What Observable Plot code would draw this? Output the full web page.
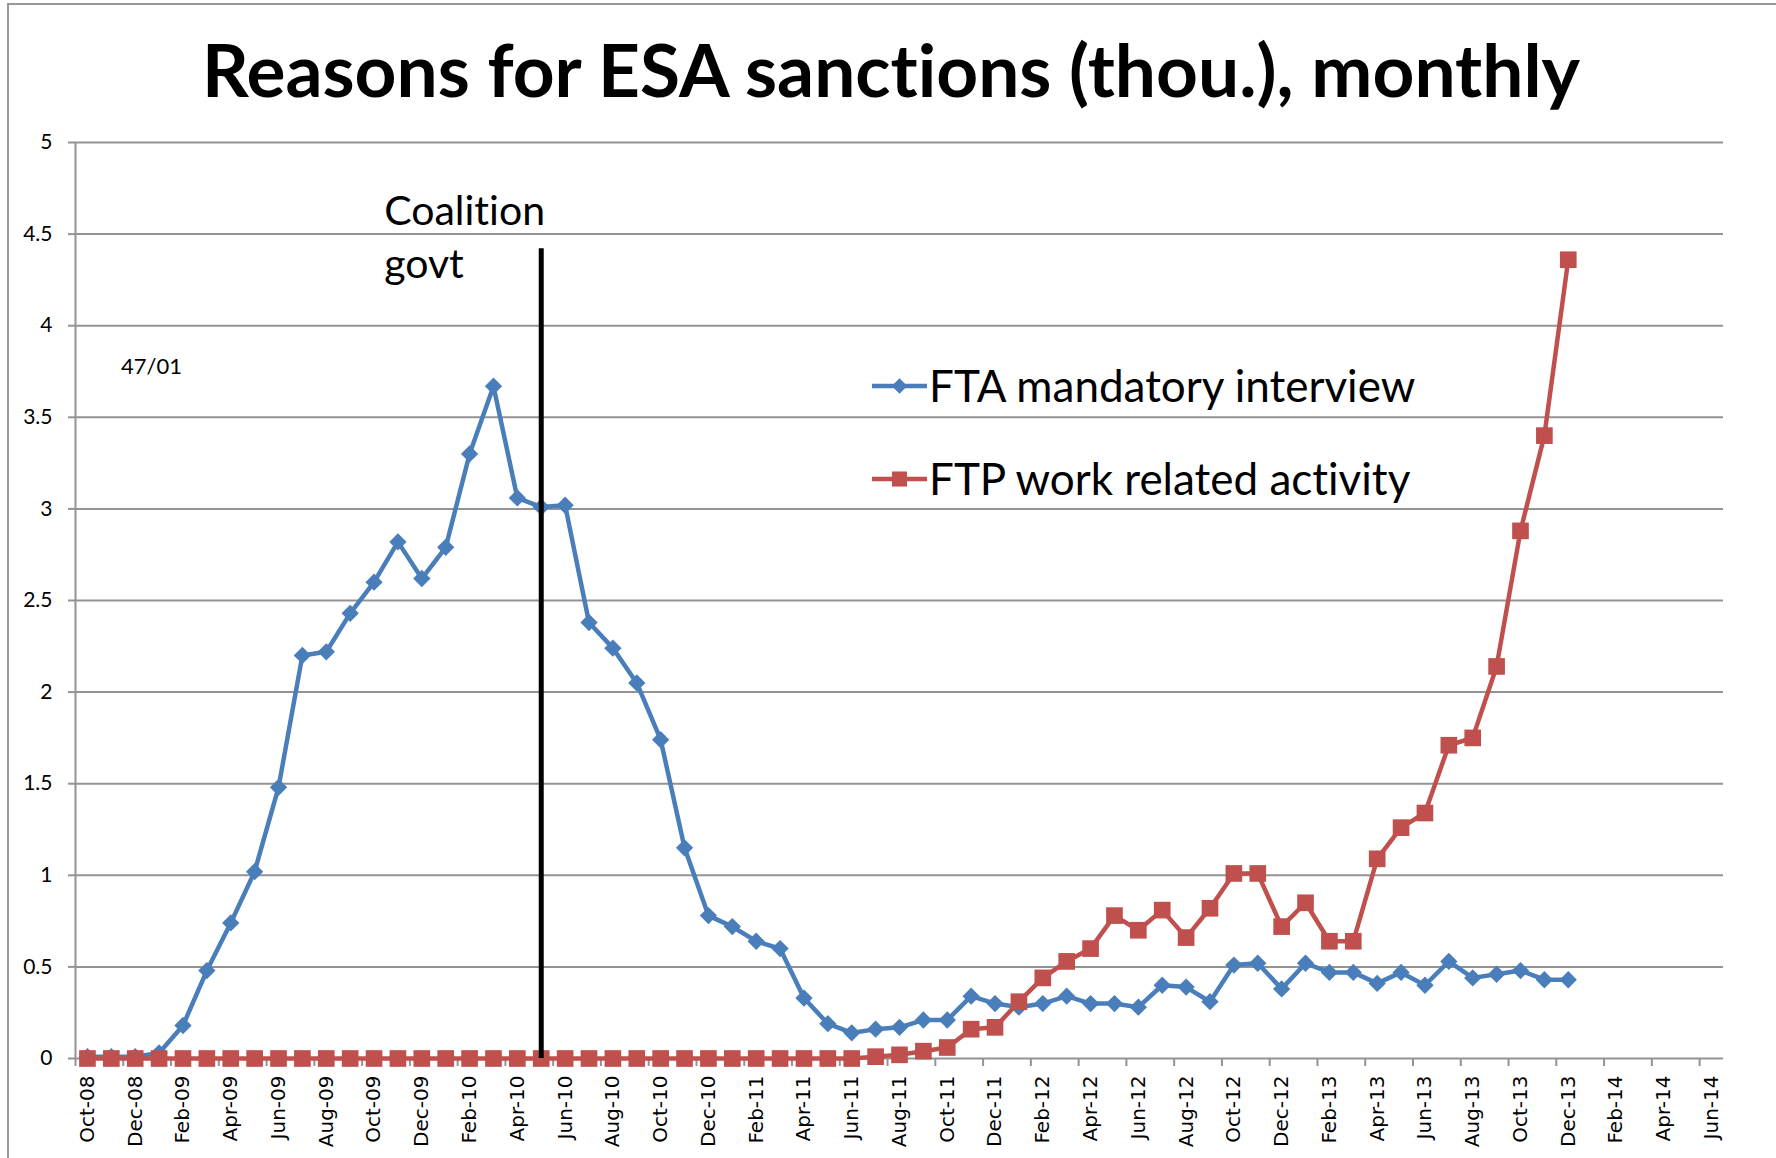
<!DOCTYPE html>
<html><head><meta charset="utf-8">
<script src="https://cdn.jsdelivr.net/npm/d3@7"></script>
<script src="https://cdn.jsdelivr.net/npm/@observablehq/plot@0.6"></script>
<style>
html,body{margin:0;padding:0;background:#fff}
body{width:1776px;height:1158px;overflow:hidden;position:relative}
#chart{position:absolute;left:0;top:110px}
#overlay{position:absolute;left:0;top:0;pointer-events:none}
svg text{font-variant-ligatures:none;font-feature-settings:"liga" 0}
</style>
</head><body>
<div id="chart"></div>
<svg id="overlay" width="1776" height="1158"></svg>
<script>
// ---- data ----
const months = ["Oct-08","Nov-08","Dec-08","Jan-09","Feb-09","Mar-09","Apr-09","May-09","Jun-09","Jul-09","Aug-09","Sep-09",
"Oct-09","Nov-09","Dec-09","Jan-10","Feb-10","Mar-10","Apr-10","May-10","Jun-10","Jul-10","Aug-10","Sep-10",
"Oct-10","Nov-10","Dec-10","Jan-11","Feb-11","Mar-11","Apr-11","May-11","Jun-11","Jul-11","Aug-11","Sep-11",
"Oct-11","Nov-11","Dec-11","Jan-12","Feb-12","Mar-12","Apr-12","May-12","Jun-12","Jul-12","Aug-12","Sep-12",
"Oct-12","Nov-12","Dec-12","Jan-13","Feb-13","Mar-13","Apr-13","May-13","Jun-13","Jul-13","Aug-13","Sep-13",
"Oct-13","Nov-13","Dec-13","Jan-14","Feb-14","Mar-14","Apr-14","May-14","Jun-14"];
const tickMonths = ["Oct-08","Dec-08","Feb-09","Apr-09","Jun-09","Aug-09","Oct-09","Dec-09","Feb-10","Apr-10","Jun-10","Aug-10",
"Oct-10","Dec-10","Feb-11","Apr-11","Jun-11","Aug-11","Oct-11","Dec-11","Feb-12","Apr-12","Jun-12","Aug-12",
"Oct-12","Dec-12","Feb-13","Apr-13","Jun-13","Aug-13","Oct-13","Dec-13","Feb-14","Apr-14","Jun-14"];
const yTicks = [0,0.5,1,1.5,2,2.5,3,3.5,4,4.5,5];
const seriesNames = ["FTA mandatory interview","FTP work related activity"];
const ftaInterview = [0.01,0.01,0.01,0.03,0.18,0.48,0.74,1.02,1.48,2.20,2.22,2.43,
2.60,2.82,2.62,2.79,3.30,3.67,3.06,3.01,3.02,2.38,2.24,2.05,
1.74,1.15,0.78,0.72,0.64,0.60,0.33,0.19,0.14,0.16,0.17,0.21,
0.21,0.34,0.30,0.28,0.30,0.34,0.30,0.30,0.28,0.40,0.39,0.31,
0.51,0.52,0.38,0.52,0.47,0.47,0.41,0.47,0.40,0.53,0.44,0.46,
0.48,0.43,0.43];
const ftpActivity = [0,0,0,0,0,0,0,0,0,0,0,0,
0,0,0,0,0,0,0,0,0,0,0,0,
0,0,0,0,0,0,0,0,0,0.01,0.02,0.04,
0.06,0.16,0.17,0.31,0.44,0.53,0.60,0.78,0.70,0.81,0.66,0.82,
1.01,1.01,0.72,0.85,0.64,0.64,1.09,1.26,1.34,1.71,1.75,2.14,
2.88,3.40,4.36];
const coalitionMonth = "May-10";
const coalitionTop = 4.42;
const coalitionLabel = "Coalition\ngovt";
const coalitionLabelY = 4.26;
const titleText = "Reasons for ESA sanctions (thou.), monthly";
const noteText = "47/01";

const blue = "#4A7EBB", red = "#C0504D", grid = "#939393";
const data = ftaInterview.map((v, i) => ({month: months[i], fta: v, ftp: ftpActivity[i]}));
const annotation = [{month: coalitionMonth, y: coalitionLabelY, label: coalitionLabel}];

const W = 1776, H = 1048, ML = 75, MR = 53, MT = 32, MB = 100;
const step = (W - ML - MR) / months.length;
const rDiamond = 7.8, rSquare = 9.4;

const chart = Plot.plot({
  width: W, height: H,
  marginLeft: ML, marginRight: MR, marginTop: MT, marginBottom: MB,
  style: {background: "transparent", overflow: "visible"},
  x: {type: "point", domain: months, padding: 0.5, axis: null, label: null},
  y: {domain: [0, 5], axis: null, label: null},
  marks: [
    Plot.ruleY(yTicks, {stroke: grid, strokeWidth: 2}),
    Plot.ruleX([months[0]], {dx: -step / 2, y1: 0, y2: 5, stroke: grid, strokeWidth: 2}),
    Plot.axisY({ticks: yTicks, tickSize: 7, tickPadding: 16, tickFormat: d => String(d), label: null,
      fontSize: 21, fontFamily: "Lato", stroke: grid, strokeWidth: 2, fill: "black"}),
    Plot.axisX({ticks: tickMonths, tickSize: 8, tickFormat: () => "", label: null, dx: -step / 2, stroke: grid, strokeWidth: 2}),
    Plot.axisX({ticks: tickMonths, tickSize: 0, tickPadding: 17, tickRotate: -90, label: null,
      fontSize: 20, fontFamily: "DejaVu Sans", fill: "black"}),
    Plot.line(data, {x: "month", y: "fta", stroke: blue, strokeWidth: 4.5}),
    Plot.dot(data, {x: "month", y: "fta", symbol: "diamond2", r: rDiamond, fill: blue}),
    Plot.line(data, {x: "month", y: "ftp", stroke: red, strokeWidth: 4.5}),
    Plot.dot(data, {x: "month", y: "ftp", symbol: "square", r: rSquare, fill: red}),
    Plot.ruleX([coalitionMonth], {y1: 0, y2: coalitionTop, stroke: "black", strokeWidth: 5}),
    Plot.text(annotation, {x: "month", y: "y", text: "label",
      textAnchor: "start", lineAnchor: "bottom", lineHeight: 1.29, dx: -157,
      fontSize: 41, fontFamily: "Lato", fill: "black"})
  ]
});
document.getElementById("chart").appendChild(chart);

// ---- overlay: border, title, note, legend ----
const ov = d3.select("#overlay");
ov.append("path").attr("d", "M8,1160V4H1780").attr("fill", "none").attr("stroke", "#999").attr("stroke-width", 2);
ov.append("text").attr("x", 891).attr("y", 97).attr("text-anchor", "middle")
  .attr("font-family", "Lato").attr("font-weight", "bold").attr("font-size", 73).attr("fill", "black").text(titleText);
ov.append("text").attr("x", 121).attr("y", 374)
  .attr("font-family", "Lato").attr("font-size", 22).attr("fill", "black").text(noteText);

const legendRows = [
  {name: seriesNames[0], color: blue, sym: d3.symbolDiamond2, size: Math.PI * 7 * 7, y: 386},
  {name: seriesNames[1], color: red, sym: d3.symbolSquare, size: Math.PI * 8.5 * 8.5, y: 479}
];
const lg = ov.selectAll("g.lg").data(legendRows).join("g").attr("class", "lg");
lg.append("line").attr("x1", 872).attr("x2", 927).attr("y1", d => d.y).attr("y2", d => d.y)
  .attr("stroke", d => d.color).attr("stroke-width", 4.5);
lg.append("path").attr("transform", d => `translate(899.5,${d.y})`)
  .attr("d", d => d3.symbol(d.sym, d.size)()).attr("fill", d => d.color);
lg.append("text").attr("x", 929).attr("y", d => d.y + 16)
  .attr("font-family", "Lato").attr("font-size", 44).attr("fill", "black").text(d => d.name);
</script>
</body></html>
